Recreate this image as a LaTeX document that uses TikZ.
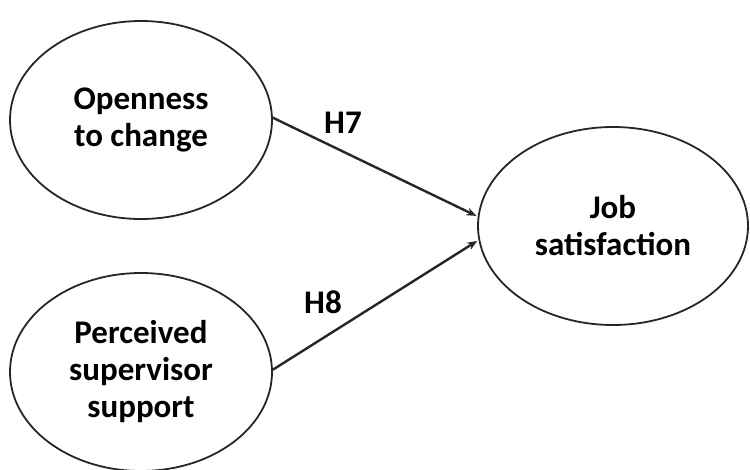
\documentclass[tikz,border=0pt]{standalone}
\usepackage{fontspec}
\setmainfont{Carlito}
\usetikzlibrary{shapes.geometric,arrows.meta}
\begin{document}
\begin{tikzpicture}[x=1pt,y=-1pt,
  construct/.style={ellipse,draw=black!85,line width=1.8pt,inner sep=0pt,
    minimum width=262pt,minimum height=198pt,align=center,
    font=\fontsize{33}{37}\selectfont\bfseries},
  path/.style={line width=2.4pt,draw=black!85,-{Stealth[length=10pt,width=8pt]},shorten >=1.5pt},
  hyp/.style={font=\fontsize{33}{37}\selectfont\bfseries}]
  \useasboundingbox (0,0) rectangle (750,469);
  \node[construct] (open) at (141,120) {Openness\\to change};
  \node[construct] (pss) at (141,372) {Perceived\\supervisor\\support};
  \node[construct,minimum width=270pt] (job) at (613,226) {Job\\satisfaction};
  \draw[path] (open.1) -- (job.176);
  \draw[path] (pss.1) -- (job.186);
  \node[hyp] (h7) at (343,123) {H7};
  \node[hyp] (h8) at (323,302) {H8};
\end{tikzpicture}
\end{document}
